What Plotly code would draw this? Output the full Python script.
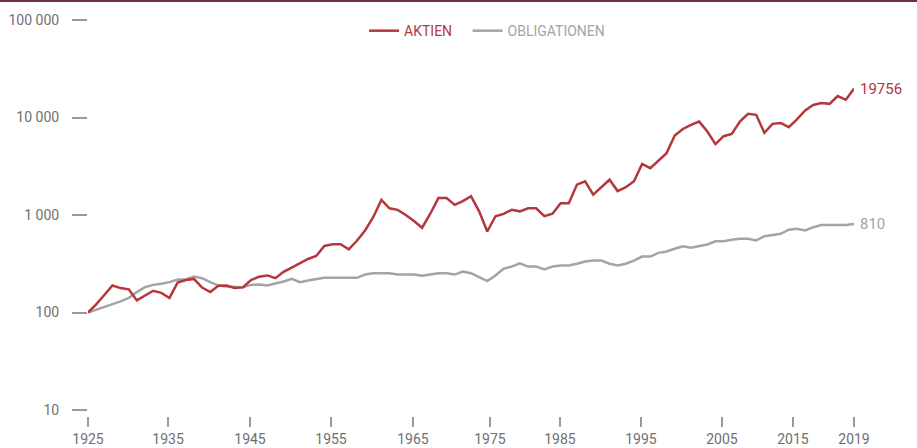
import math
import plotly.graph_objects as go

years = list(range(1925, 2020))

aktien = [
    100, 121, 151, 189, 178, 173, 133, 148, 167, 159,
    141, 203, 215, 221, 180, 162, 188, 189, 178, 181,
    215, 233, 240, 225, 261, 289, 321, 354, 380, 481,
    500, 502, 445, 544, 694, 950, 1430, 1170, 1130, 1000,
    866, 740, 1030, 1490, 1490, 1270, 1390, 1560, 1090, 677,
    972, 1027, 1130, 1090, 1170, 1170, 972, 1030, 1320, 1320,
    2050, 2220, 1620, 1930, 2300, 1760, 1930, 2220, 3340, 3020,
    3570, 4310, 6530, 7630, 8410, 9080, 7180, 5340, 6430, 6800,
    9080, 10900, 10650, 6960, 8610, 8800, 7970, 9550, 11800, 13460,
    14100, 13800, 16600, 15200, 19756,
]

obligationen = [
    100, 107, 113, 121, 130, 141, 162, 182, 192, 197,
    205, 218, 218, 234, 225, 205, 189, 185, 182, 182,
    192, 194, 189, 197, 208, 221, 205, 213, 220, 227,
    227, 227, 227, 227, 245, 253, 253, 253, 245, 245,
    245, 238, 245, 253, 253, 245, 263, 253, 230, 210,
    240, 281, 296, 320, 296, 296, 276, 296, 303, 303,
    316, 333, 341, 341, 316, 303, 316, 341, 375, 375,
    409, 422, 450, 478, 461, 478, 499, 538, 538, 556,
    570, 570, 548, 606, 625, 641, 706, 722, 694, 750,
    790, 790, 790, 790, 810,
]

y_tickvals = [10, 100, 1000, 10000, 100000]
y_ticktext = ["10", "100", "1 000", "10 000", "100 000"]

x_tickvals = [1925, 1934.82, 1944.88, 1954.82, 1964.88, 1974.33, 1982.92,
              1992.86, 2002.80, 2011.51, 2019]
x_ticktext = ["1925", "1935", "1945", "1955", "1965", "1975", "1985",
              "1995", "2005", "2015", "2019"]

RED = "#b3373c"
GRAY = "#a4a4a4"
TXT = "#6f6f6f"
FONT = "Roboto, Liberation Sans, Arial, sans-serif"

fig = go.Figure()
fig.add_trace(go.Scatter(
    x=years, y=obligationen, mode="lines",
    name=f"<span style='color:{GRAY}'>OBLIGATIONEN</span>",
    line=dict(color=GRAY, width=2.5),
))
fig.add_trace(go.Scatter(
    x=years, y=aktien, mode="lines",
    name=f"<span style='color:{RED}'>AKTIEN</span>&nbsp;&nbsp;&nbsp;",
    line=dict(color=RED, width=2.5),
))

fig.add_annotation(x=years[-1], y=math.log10(aktien[-1]), text=str(aktien[-1]),
                   showarrow=False, xanchor="left", xshift=4,
                   font=dict(family=FONT, size=15, color=RED))
fig.add_annotation(x=years[-1], y=math.log10(obligationen[-1]), text=str(obligationen[-1]),
                   showarrow=False, xanchor="left", xshift=4,
                   font=dict(family=FONT, size=15, color=GRAY))

W, H = 917, 448
L, R, T, B = 88, 63, 20, 32
pw, ph = W - L - R, H - T - B
fig.add_shape(type="line", xref="paper", yref="paper",
              x0=-L / pw, x1=1 + R / pw, y0=1 + (T - 1) / ph, y1=1 + (T - 1) / ph,
              line=dict(color="#6d2f43", width=2))

fig.update_layout(
    width=W, height=H,
    margin=dict(l=L, r=R, t=T, b=B),
    paper_bgcolor="white", plot_bgcolor="white",
    font=dict(family=FONT, size=14, color=TXT),
    showlegend=True,
    legend=dict(orientation="h", x=0.521, xanchor="center", y=0.972, yanchor="middle",
                traceorder="reversed", font=dict(family=FONT, size=14),
                bgcolor="rgba(0,0,0,0)", itemwidth=30),
    xaxis=dict(range=[1925, 2019], showgrid=False, zeroline=False, showline=False,
               automargin=False,
               tickmode="array", tickvals=x_tickvals, ticktext=x_ticktext,
               ticks="outside", ticklen=10, tickwidth=1.5, tickcolor="#9a9a9a",
               tickfont=dict(family=FONT, size=14, color=TXT), fixedrange=True),
    yaxis=dict(type="log", range=[1 - 0.0615, 5], showgrid=False, zeroline=False,
               showline=False, automargin=False,
               tickmode="array", tickvals=y_tickvals, ticktext=y_ticktext,
               ticks="outside", ticklen=15, tickwidth=1.5, tickcolor="#9a9a9a",
               ticklabelstandoff=10,
               tickfont=dict(family=FONT, size=14, color=TXT), fixedrange=True),
)

fig.write_html("out.html", config={"displayModeBar": False},
               post_script="document.body.style.margin='0px';document.body.style.overflow='hidden';")
